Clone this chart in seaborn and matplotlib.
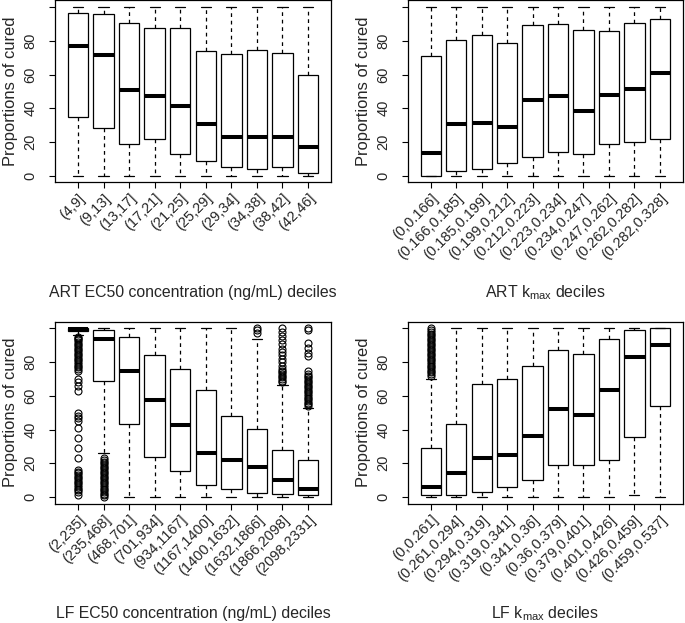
import numpy as np
import pandas as pd
import matplotlib
matplotlib.use("Agg")
import matplotlib.pyplot as plt
import seaborn as sns

# ---- values (proportion of cured, %) ----
# each box: lower whisker, q1, median, q3, upper whisker, plus outliers

art_ec50_labels = ["(4,9]", "(9,13]", "(13,17]", "(17,21]", "(21,25]",
                   "(25,29]", "(29,34]", "(34,38]", "(38,42]", "(42,46]"]
art_ec50_lo = [0, 0, 0, 0, 0, 0, 0, 0, 0, 0]
art_ec50_q1 = [35, 28, 19, 22, 12.8, 8.9, 4.9, 3.8, 4.9, 1.8]
art_ec50_med = [77, 71.5, 51, 47, 41.5, 30.6, 23, 23, 23, 17]
art_ec50_q3 = [96.8, 95.8, 90.9, 87.9, 87.9, 74, 72, 74.5, 73, 60]
art_ec50_hi = [100, 100, 100, 100, 100, 100, 100, 100, 100, 100]

art_kmax_labels = ["(0,0.166]", "(0.166,0.185]", "(0.185,0.199]", "(0.199,0.212]",
                   "(0.212,0.223]", "(0.223,0.234]", "(0.234,0.247]", "(0.247,0.262]",
                   "(0.262,0.282]", "(0.282,0.328]"]
art_kmax_lo = [0, 0, 0, 0, 0, 0, 0, 0, 0, 0]
art_kmax_q1 = [0, 3, 4, 7.7, 10.9, 13.8, 12.8, 18.8, 19.8, 21.9]
art_kmax_med = [13.4, 30.6, 31, 29, 45, 47, 38.5, 48, 51.5, 61]
art_kmax_q3 = [71, 80.8, 83.6, 79, 89.5, 89.9, 86.3, 86, 90.9, 92.8]
art_kmax_hi = [100, 100, 100, 100, 100, 100, 100, 100, 100, 100]

lf_ec50_labels = ["(2,235]", "(235,468]", "(468,701]", "(701,934]", "(934,1167]",
                  "(1167,1400]", "(1400,1632]", "(1632,1866]", "(1866,2098]", "(2098,2331]"]
lf_ec50_lo = [96.2, 25.9, 0, 0, 0, 0, 0, 0, 0, 0]
lf_ec50_q1 = [98.2, 68.9, 43.4, 23.6, 15.6, 6.9, 5, 2.2, 2, 1]
lf_ec50_med = [99.5, 93.8, 75, 57.6, 42.6, 25.9, 22, 18, 10, 5]
lf_ec50_q3 = [100, 99.2, 95.2, 84.2, 76.2, 63.6, 47.9, 40.2, 28, 22]
lf_ec50_hi = [100, 100, 100, 100, 100, 100, 100, 93.8, 66.5, 52.5]
lf_ec50_out_low = {
    0: [95, 94.5, 94, 93, 92, 91, 90, 89, 88, 87, 86, 85, 84, 83, 82, 81, 80,
        79, 78, 77, 76, 75, 70, 68, 66, 63, 50, 48, 47, 45, 41, 35, 29, 23,
        16, 15, 14, 13, 12, 11, 10, 9, 8, 7, 6, 5, 4, 3, 1],
    1: [23, 22, 21, 20, 19, 18, 17, 16, 15, 14, 13, 12, 11, 10, 9, 8, 7, 6,
        5, 4, 3, 2, 1, 0],
}
lf_ec50_out_high = {
    7: [97.5, 99, 100],
    8: [68, 69, 70, 71, 72, 73, 74, 75, 76, 78, 80, 82, 84, 86, 88, 90.5, 93,
        95.5, 98, 100],
    9: [54, 55, 56, 57, 58, 59, 60, 61, 62, 63, 64, 65, 66, 67, 68, 69, 70,
        71, 72, 73, 75, 83.6, 85.5, 88.4, 91.3, 99, 100],
}

lf_kmax_labels = ["(0,0.261]", "(0.261,0.294]", "(0.294,0.319]", "(0.319,0.341]",
                  "(0.341,0.36]", "(0.36,0.379]", "(0.379,0.401]", "(0.401,0.426]",
                  "(0.426,0.459]", "(0.459,0.537]"]
lf_kmax_lo = [0, 0, 0, 0, 0, 0, 0, 0, 1.2, 0]
lf_kmax_q1 = [1, 1.4, 3, 6, 9.9, 19, 19, 22, 35.8, 54]
lf_kmax_med = [6, 14, 23, 25, 36, 52.3, 48.7, 63.3, 83.3, 90.3]
lf_kmax_q3 = [29.3, 43.2, 67, 70, 77.8, 87, 85, 94, 99.2, 100]
lf_kmax_hi = [70, 100, 100, 100, 100, 100, 100, 100, 100, 100]
lf_kmax_out_high = {
    0: [72, 73, 74, 75, 76, 77, 78, 79, 80, 81, 82, 83, 84, 85, 86, 87, 88, 89,
        90, 91, 92, 93, 94, 95, 96, 97, 98, 99, 100],
}

M = 100  # sample block size; quartiles fall exactly on indices M, 2M, 3M


def box_sample(lo, q1, med, q3, hi, out_lo=(), out_hi=()):
    # build a sample whose boxplot stats are exactly the values read above
    out_lo = sorted(out_lo)
    out_hi = sorted(out_hi)
    vals = np.empty(4 * M + 1)
    vals[:len(out_lo)] = out_lo
    vals[len(out_lo)] = lo
    vals[len(out_lo) + 1:M + 1] = q1
    vals[M + 1:2 * M + 1] = med
    vals[2 * M + 1:] = q3
    vals[-1 - len(out_hi)] = hi
    if out_hi:
        vals[-len(out_hi):] = out_hi
    return vals


def make_frame(labels, lo, q1, med, q3, hi, out_low=None, out_high=None):
    out_low = out_low or {}
    out_high = out_high or {}
    parts = []
    for i, lab in enumerate(labels):
        v = box_sample(lo[i], q1[i], med[i], q3[i], hi[i],
                       out_low.get(i, ()), out_high.get(i, ()))
        parts.append(pd.DataFrame({"decile": lab, "cured": v}))
    return pd.concat(parts, ignore_index=True)


panels = [
    (make_frame(art_ec50_labels, art_ec50_lo, art_ec50_q1, art_ec50_med, art_ec50_q3, art_ec50_hi),
     art_ec50_labels, "ART EC50 concentration (ng/mL) deciles"),
    (make_frame(art_kmax_labels, art_kmax_lo, art_kmax_q1, art_kmax_med, art_kmax_q3, art_kmax_hi),
     art_kmax_labels, r"ART k$_{\mathrm{max}}$ deciles"),
    (make_frame(lf_ec50_labels, lf_ec50_lo, lf_ec50_q1, lf_ec50_med, lf_ec50_q3, lf_ec50_hi,
                lf_ec50_out_low, lf_ec50_out_high),
     lf_ec50_labels, "LF EC50 concentration (ng/mL) deciles"),
    (make_frame(lf_kmax_labels, lf_kmax_lo, lf_kmax_q1, lf_kmax_med, lf_kmax_q3, lf_kmax_hi,
                None, lf_kmax_out_high),
     lf_kmax_labels, r"LF k$_{\mathrm{max}}$ deciles"),
]

sns.set_style("white")
plt.rcParams["font.family"] = ["Liberation Sans", "DejaVu Sans"]
plt.rcParams["mathtext.fontset"] = "custom"
plt.rcParams["mathtext.rm"] = "Liberation Sans"
plt.rcParams["mathtext.it"] = "Liberation Sans:italic"

fig = plt.figure(figsize=(6.85, 6.23), dpi=100)
rects = [
    [0.0803, 0.7072, 0.4029, 0.2921],
    [0.5956, 0.7072, 0.4010, 0.2921],
    [0.0803, 0.1915, 0.4029, 0.2921],
    [0.5956, 0.1915, 0.4010, 0.2921],
]

for (df, labels, xtitle), rect in zip(panels, rects):
    ax = fig.add_axes(rect)
    sns.boxplot(data=df, x="decile", y="cured", order=labels, ax=ax,
                color="white", linecolor="black", linewidth=0.9, width=0.8,
                fliersize=5, saturation=1,
                whiskerprops={"linestyle": (0, (3, 3))},
                medianprops={"linewidth": 2.9},
                flierprops={"marker": "o", "markerfacecolor": "none",
                            "markeredgewidth": 0.8})
    ax.set_xlim(-0.9, 9.9)
    ax.set_ylim(-4, 104)
    ax.set_yticks([0, 20, 40, 60, 80, 100])
    ax.set_yticklabels(["0", "20", "40", "60", "80", ""])
    for s in ax.spines.values():
        s.set_visible(True)
        s.set_color("black")
        s.set_linewidth(0.9)
    ax.tick_params(axis="both", direction="out", length=4.5, width=0.8,
                   color="black", left=True, bottom=True)
    ax.tick_params(axis="y", pad=8, labelsize=10.5)
    ax.tick_params(axis="x", pad=2, labelsize=10.5)
    for t in ax.get_yticklabels():
        t.set_rotation(90)
        t.set_va("center")
    for t in ax.get_xticklabels():
        t.set_rotation(45)
        t.set_ha("right")
        t.set_va("top")
        t.set_rotation_mode("anchor")
    ax.set_xlabel(xtitle, fontsize=11.4)
    ax.xaxis.set_label_coords(0.5, -0.604)
    ax.xaxis.label.set_va("center")
    ax.set_ylabel("Proportions of cured", fontsize=11.9)
    ax.yaxis.set_label_coords(-0.163, 0.5)
    ax.yaxis.label.set_va("center")

fig.savefig("out.png", dpi=100)
